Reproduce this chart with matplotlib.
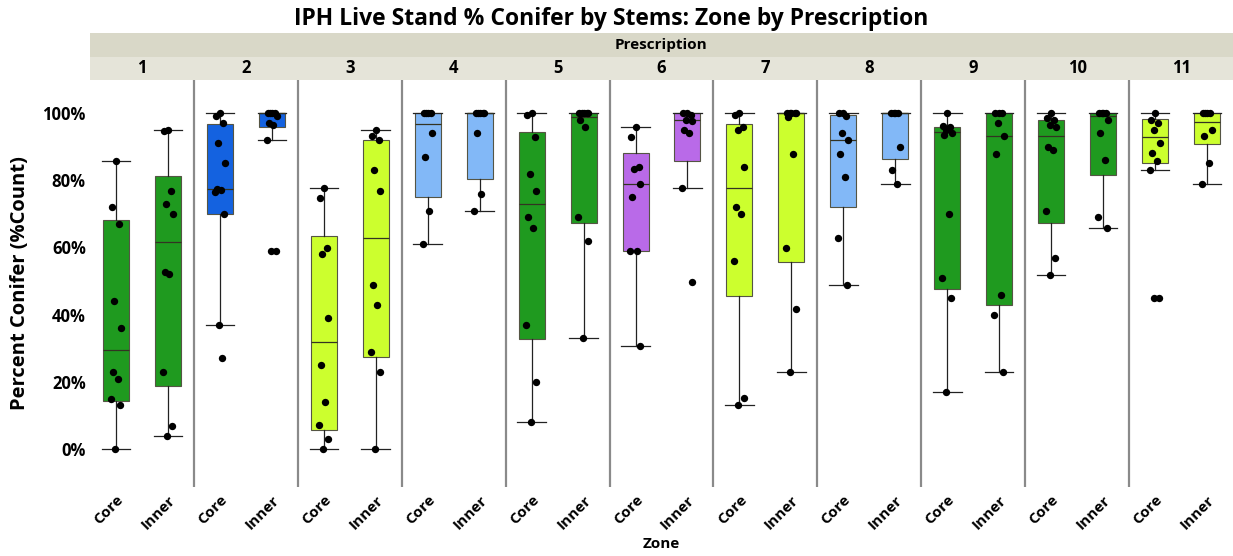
import numpy as np
import matplotlib
matplotlib.use("Agg")
import matplotlib.pyplot as plt
from matplotlib.patches import Rectangle

plt.rcParams['font.family'] = ['Open Sans', 'DejaVu Sans']
plt.rcParams['font.weight'] = 'bold'

# prescriptions (panels) and zones (boxes inside each panel)
prescriptions = ['1', '2', '3', '4', '5', '6', '7', '8', '9', '10', '11']
zones = ['Core', 'Inner']

# box summaries, order: 1 Core, 1 Inner, 2 Core, ...
whis_lo = [0, 3.9, 36.9, 91.8, 0, 0, 60.9, 70.9, 7.9, 32.9, 30.8,
           77.8, 13.2, 22.9, 48.9, 78.9, 16.9, 22.9, 51.9, 65.9, 83, 78.8]
q1 = [14.4, 18.9, 69.8, 95.7, 5.8, 27.4, 74.9, 80.3, 32.6, 67.2, 58.8,
      85.8, 45.5, 55.5, 71.9, 86.2, 47.7, 42.9, 67.4, 81.6, 85.1, 90.8]
median = [29.6, 61.5, 77.5, 100, 31.7, 62.8, 96.6, 100, 72.8, 98.9, 78.8,
          98.0, 77.8, 100, 91.8, 100, 94.2, 93.0, 93.0, 99.0, 92.7, 97.2]
q3 = [68.0, 81.1, 96.7, 100, 63.5, 92.0, 100, 100, 94.4, 100, 88.2,
      100, 96.6, 100, 99.4, 100, 95.9, 100, 97.9, 100, 98.2, 100]
whis_hi = [85.8, 94.8, 100, 100, 77.8, 94.8, 100, 100, 100, 100, 95.9,
           100, 100, 100, 100, 100, 100, 100, 100, 100, 100, 100]

# individual stands (% conifer)
points = [
    [85.8, 71.9, 67.0, 44.0, 36.0, 22.9, 20.9, 15.0, 13.0, 0],
    [95, 94.5, 76.9, 72.9, 69.9, 52.8, 52.1, 22.9, 6.9, 3.9],
    [100, 99, 97, 91, 85, 77.5, 77, 76.5, 70, 37, 27],
    [100, 100, 100, 100, 99, 97, 96.5, 92, 59, 59],
    [77.8, 74.8, 59.9, 57.9, 38.9, 25.0, 13.9, 7.0, 3.0, 0],
    [94.8, 93, 92, 82.9, 76.9, 48.9, 42.9, 28.9, 22.9, 0],
    [100, 100, 100, 100, 93.9, 86.9, 70.9, 60.9],
    [100, 100, 100, 100, 100, 93.9, 75.9, 70.9],
    [100, 99.5, 92.9, 81.9, 76.9, 69.0, 65.9, 37.0, 19.9, 7.9],
    [100, 100, 100, 100, 100, 97.9, 95.9, 68.9, 61.9, 32.9],
    [95.9, 92.9, 84, 83.3, 78.9, 74.9, 58.8, 58.8, 30.8],
    [100, 100, 99.3, 98, 97.6, 94.9, 93.9, 77.8, 49.8],
    [100, 99.3, 95.9, 94.9, 83.8, 71.9, 69.9, 55.9, 15.2, 13.2],
    [100, 100, 100, 100, 100, 98.9, 87.8, 59.9, 41.8, 22.9],
    [100, 100, 99, 94, 91.8, 87.8, 80.9, 62.9, 48.9],
    [100, 100, 100, 100, 89.9, 82.9, 78.9],
    [100, 96, 95.9, 95, 94, 93.5, 69.9, 50.9, 44.9, 16.9],
    [100, 100, 100, 97.0, 93.0, 87.9, 45.9, 39.9, 22.9],
    [100, 98.5, 97.9, 96.5, 95.9, 90, 89, 70.9, 56.9, 51.9],
    [100, 100, 100, 100, 97.9, 94, 85.9, 68.9, 65.9],
    [100, 98, 97, 95, 91, 88, 85.8, 83, 44.9, 44.9],
    [100, 100, 100, 100, 95, 93, 85, 78.8],
]

green = '#1f9a1f'
blue = '#1462e0'
lime = '#ccff2e'
lightblue = '#82b8f7'
purple = '#b96ae8'
panel_colors = [green, blue, lime, lightblue, green, purple,
                lime, lightblue, green, green, lime]

fig = plt.figure(figsize=(12.33, 5.56), dpi=100)
left, right = 90 / 1233, 1.0
bottom, top = 1 - 487 / 556, 1 - 80 / 556
ax = fig.add_axes([left, bottom, right - left, top - bottom])

n = len(prescriptions) * len(zones)
positions = np.arange(n)
stats = []
for i in range(n):
    stats.append(dict(med=median[i], q1=q1[i], q3=q3[i],
                      whislo=whis_lo[i], whishi=whis_hi[i], fliers=[]))

bp = ax.bxp(stats, positions=positions, widths=0.5, capwidths=0.55,
            patch_artist=True, showfliers=False,
            boxprops=dict(edgecolor='#555544', linewidth=0.8),
            medianprops=dict(color='#333322', linewidth=0.9),
            whiskerprops=dict(color='#222222', linewidth=0.9),
            capprops=dict(color='#222222', linewidth=0.9))
for i, patch in enumerate(bp['boxes']):
    patch.set_facecolor(panel_colors[i // 2])

jitter = [0.0, -0.08, 0.06, -0.03, 0.09, -0.06, 0.03, -0.1, 0.08, -0.02, 0.05]
for i, vals in enumerate(points):
    xs = [positions[i] + jitter[k % len(jitter)] for k in range(len(vals))]
    ax.scatter(xs, vals, s=28, color='black', zorder=4, linewidths=0)

for k in range(1, len(prescriptions)):
    ax.axvline(2 * k - 0.5, color='#8a8a8a', linewidth=1.6, zorder=1)

ax.set_xlim(-0.5, n - 0.5)
ax.set_ylim(-11.3, 109.8)
ax.set_yticks([0, 20, 40, 60, 80, 100])
ax.set_yticklabels(['0%', '20%', '40%', '60%', '80%', '100%'], fontsize=12,
                   fontweight='bold')
ax.set_xticks(positions)
ax.set_xticklabels(zones * len(prescriptions), rotation=45, ha='right',
                   rotation_mode='anchor', fontsize=11, fontweight='bold')
ax.tick_params(axis='both', length=0)
ax.tick_params(axis='x', pad=4)
ax.tick_params(axis='y', pad=3)
for s in ax.spines.values():
    s.set_visible(False)
ax.set_ylabel('Percent Conifer (%Count)', fontsize=14.5, fontweight='bold',
              labelpad=9)
ax.set_xlabel('Zone', fontsize=11, fontweight='bold', labelpad=4)

# strip header
sax = fig.add_axes([left, 1 - 80 / 556, right - left, 47 / 556])
sax.set_xlim(-0.5, n - 0.5)
sax.set_ylim(0, 2)
sax.add_patch(Rectangle((-0.5, 1), n, 1, facecolor='#d9d8c8', edgecolor='none'))
sax.add_patch(Rectangle((-0.5, 0), n, 1, facecolor='#e5e4d9', edgecolor='none'))
sax.text((n - 1) / 2, 1.5, 'Prescription', ha='center', va='center',
         fontsize=11, fontweight='bold')
for k, p in enumerate(prescriptions):
    sax.text(2 * k + 0.5, 0.5, p, ha='center', va='center', fontsize=12,
             fontweight='bold')
sax.axis('off')

fig.suptitle('IPH Live Stand % Conifer by Stems: Zone by Prescription',
             x=0.496, y=0.988, va='top', fontsize=16.5, fontweight='bold')

fig.savefig('out.png', dpi=100)
